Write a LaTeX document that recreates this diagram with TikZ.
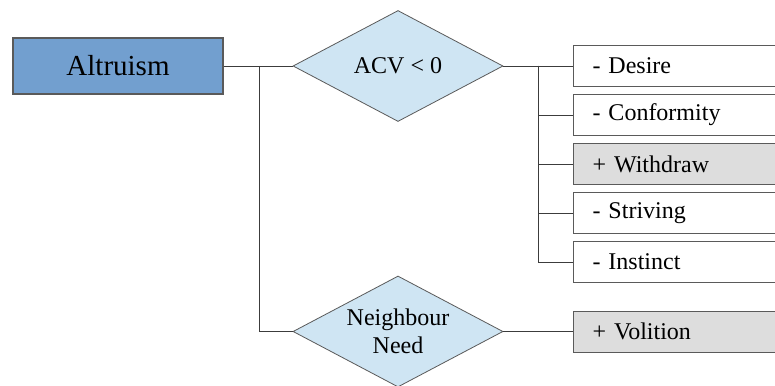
\documentclass[tikz,border=0pt]{standalone}
\usepackage{fontspec}
\setmainfont{Liberation Serif}
\newfontfamily\labelfont{Liberation Serif}
\usetikzlibrary{shapes.geometric}

\definecolor{rootblue}{HTML}{729FCF}
\definecolor{condblue}{HTML}{CFE5F3}
\definecolor{plusgray}{HTML}{DDDDDD}
\definecolor{edgegray}{HTML}{3C3C3C}
\definecolor{framegray}{HTML}{5A5A5A}

\tikzset{
  rootbox/.style={draw=framegray, line width=1.1pt, fill=rootblue, rectangle,
    minimum width=210pt, minimum height=56pt, inner sep=0pt,
    font=\labelfont\fontsize{29}{33}\selectfont},
  condition/.style={draw=framegray, line width=0.8pt, fill=condblue, diamond,
    minimum width=210pt, minimum height=111pt, inner sep=0pt, aspect=1.89,
    align=center, font=\labelfont\fontsize{24}{28}\selectfont},
  factor/.style={draw=framegray, line width=1pt, rectangle, anchor=west,
    minimum height=41pt, text width=180pt, inner xsep=19pt, inner ysep=0pt,
    align=left, font=\labelfont\fontsize{24}{28}\selectfont},
  minusfactor/.style={factor, fill=white},
  plusfactor/.style={factor, fill=plusgray},
  link/.style={draw=edgegray, line width=0.9pt}
}

\begin{document}
\begin{tikzpicture}[x=1pt, y=-1pt]
  \fill[white] (0,0) rectangle (775,385);
  \useasboundingbox (0,0) rectangle (775,385);

  % root and the two conditions
  \node[rootbox] (alt) at (118,66) {Altruism};
  \node[condition] (acv) at (398,66) {ACV < 0};
  \node[condition] (need) at (398,331.5) {Neighbour\\Need};

  % factors
  \node[minusfactor] (desire)  at (573,66)  {- Desire};
  \node[minusfactor] (conform) at (573,115) {- Conformity};
  \node[plusfactor]  (withd)   at (573,164) {+ Withdraw};
  \node[minusfactor] (striv)   at (573,213) {- Striving};
  \node[minusfactor] (inst)    at (573,262) {- Instinct};
  \node[plusfactor]  (vol)     at (573,331.5) {+ Volition};

  % branch points
  \coordinate (j1) at (259,66);
  \coordinate (j2) at (538,66);

  % connectors
  \draw[link] (alt.east) -- (acv.west);
  \draw[link] (j1) |- (need.west);
  \draw[link] (acv.east) -- (desire.west);
  \draw[link] (j2) |- (conform.west);
  \draw[link] (j2) |- (withd.west);
  \draw[link] (j2) |- (striv.west);
  \draw[link] (j2) |- (inst.west);
  \draw[link] (need.east) -- (vol.west);
\end{tikzpicture}
\end{document}
